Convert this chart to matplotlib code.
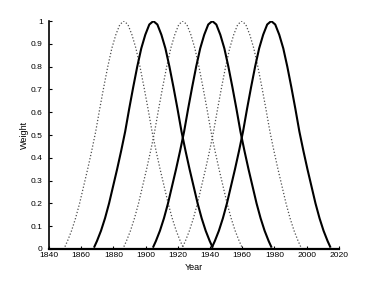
import numpy as np
import matplotlib
matplotlib.use('Agg')
import matplotlib.pyplot as plt

plt.rcParams['font.family'] = ['Liberation Sans', 'DejaVu Sans']

# year of peak weight for each window
solid_centres = [1904.8, 1941.4, 1978.0]
dotted_centres = [1886.5, 1923.1, 1959.7]

# shape of one window: weight against distance (years) from its peak
profile_offset = [0, 2.5, 5, 7.5, 10, 12.5, 15, 17.5, 20, 22.5, 25, 27.5, 30, 32.5, 35, 36.6]
profile_weight = [1, 0.985, 0.94, 0.88, 0.80, 0.71, 0.615, 0.515, 0.43, 0.35, 0.275, 0.2, 0.135, 0.08, 0.035, 0.01]

xticks = [1840, 1860, 1880, 1900, 1920, 1940, 1960, 1980, 2000, 2020]
yticks = [0, 0.1, 0.2, 0.3, 0.4, 0.5, 0.6, 0.7, 0.8, 0.9, 1]
yticklabels = ['0', '0.1', '0.2', '0.3', '0.4', '0.5', '0.6', '0.7', '0.8', '0.9', '1']

off = np.array(profile_offset)
wt = np.array(profile_weight)
off_full = np.concatenate([-off[::-1], off[1:]])
wt_full = np.concatenate([wt[::-1], wt[1:]])

fig = plt.figure(figsize=(3.74, 2.81), dpi=100)
ax = fig.add_axes([0.131, 0.114, 0.775, 0.811])

for c in dotted_centres:
    ax.plot(c + off_full, wt_full, color='0.3', linestyle=(0, (1, 1.6)), lw=0.9)

for c in solid_centres:
    ax.plot(c + off_full, wt_full, color='black', lw=1.5)

ax.set_xlim(1840, 2020)
ax.set_ylim(0, 1)
ax.set_xticks(xticks)
ax.set_yticks(yticks)
ax.set_yticklabels(yticklabels)
ax.tick_params(direction='in', length=2.5, width=0.8, labelsize=6.1, colors='black')
ax.tick_params(axis='x', pad=2.5)
ax.tick_params(axis='y', pad=4.5)

ax.spines['top'].set_visible(False)
ax.spines['right'].set_visible(False)
ax.spines['left'].set_linewidth(1.2)
ax.spines['bottom'].set_linewidth(1.6)

ax.set_xlabel('Year', fontsize=6.5, labelpad=2.5)
ax.set_ylabel('Weight', fontsize=6.5, labelpad=1.5)

fig.savefig('out.png', dpi=100)
